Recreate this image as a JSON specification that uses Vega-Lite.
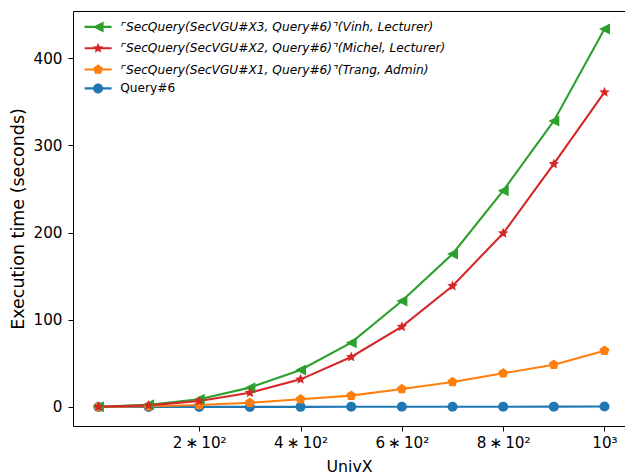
{
  "$schema": "https://vega.github.io/schema/vega-lite/v6.json",
  "width": 552,
  "height": 415,
  "autosize": {"type": "none"},
  "padding": {"left": 73, "top": 11, "right": 0, "bottom": 50},
  "background": "white",
  "config": {
    "view": {"stroke": null},
    "font": "DejaVu Sans",
    "axis": {
      "grid": false,
      "labelFont": "DejaVu Sans",
      "titleFont": "DejaVu Sans",
      "labelFontSize": 15.2,
      "titleFontWeight": "normal",
      "labelColor": "#000",
      "titleColor": "#000",
      "tickColor": "#000",
      "domainColor": "#000",
      "tickSize": 5,
      "tickWidth": 1,
      "domainWidth": 1
    }
  },
  "data": {
    "values": [
      {"x": 1, "y": 0.05, "series": "Query#6"},
      {"x": 100, "y": 0.08, "series": "Query#6"},
      {"x": 200, "y": 0.1, "series": "Query#6"},
      {"x": 300, "y": 0.12, "series": "Query#6"},
      {"x": 400, "y": 0.15, "series": "Query#6"},
      {"x": 500, "y": 0.2, "series": "Query#6"},
      {"x": 600, "y": 0.25, "series": "Query#6"},
      {"x": 700, "y": 0.3, "series": "Query#6"},
      {"x": 800, "y": 0.35, "series": "Query#6"},
      {"x": 900, "y": 0.4, "series": "Query#6"},
      {"x": 1000, "y": 0.5, "series": "Query#6"},
      {"x": 1, "y": 0.1, "series": "⌜SecQuery(SecVGU#X1, Query#6)⌝(Trang, Admin)"},
      {"x": 100, "y": 0.8, "series": "⌜SecQuery(SecVGU#X1, Query#6)⌝(Trang, Admin)"},
      {"x": 200, "y": 2.3, "series": "⌜SecQuery(SecVGU#X1, Query#6)⌝(Trang, Admin)"},
      {"x": 300, "y": 4.9, "series": "⌜SecQuery(SecVGU#X1, Query#6)⌝(Trang, Admin)"},
      {"x": 400, "y": 8.8, "series": "⌜SecQuery(SecVGU#X1, Query#6)⌝(Trang, Admin)"},
      {"x": 500, "y": 13, "series": "⌜SecQuery(SecVGU#X1, Query#6)⌝(Trang, Admin)"},
      {"x": 600, "y": 20.6, "series": "⌜SecQuery(SecVGU#X1, Query#6)⌝(Trang, Admin)"},
      {"x": 700, "y": 28.7, "series": "⌜SecQuery(SecVGU#X1, Query#6)⌝(Trang, Admin)"},
      {"x": 800, "y": 38.6, "series": "⌜SecQuery(SecVGU#X1, Query#6)⌝(Trang, Admin)"},
      {"x": 900, "y": 48.5, "series": "⌜SecQuery(SecVGU#X1, Query#6)⌝(Trang, Admin)"},
      {"x": 1000, "y": 64.6, "series": "⌜SecQuery(SecVGU#X1, Query#6)⌝(Trang, Admin)"},
      {"x": 1, "y": 0.3, "series": "⌜SecQuery(SecVGU#X3, Query#6)⌝(Vinh, Lecturer)"},
      {"x": 100, "y": 2.5, "series": "⌜SecQuery(SecVGU#X3, Query#6)⌝(Vinh, Lecturer)"},
      {"x": 200, "y": 8.8, "series": "⌜SecQuery(SecVGU#X3, Query#6)⌝(Vinh, Lecturer)"},
      {"x": 300, "y": 22.2, "series": "⌜SecQuery(SecVGU#X3, Query#6)⌝(Vinh, Lecturer)"},
      {"x": 400, "y": 42.4, "series": "⌜SecQuery(SecVGU#X3, Query#6)⌝(Vinh, Lecturer)"},
      {"x": 500, "y": 73.8, "series": "⌜SecQuery(SecVGU#X3, Query#6)⌝(Vinh, Lecturer)"},
      {"x": 600, "y": 121.6, "series": "⌜SecQuery(SecVGU#X3, Query#6)⌝(Vinh, Lecturer)"},
      {"x": 700, "y": 175.5, "series": "⌜SecQuery(SecVGU#X3, Query#6)⌝(Vinh, Lecturer)"},
      {"x": 800, "y": 248, "series": "⌜SecQuery(SecVGU#X3, Query#6)⌝(Vinh, Lecturer)"},
      {"x": 900, "y": 328, "series": "⌜SecQuery(SecVGU#X3, Query#6)⌝(Vinh, Lecturer)"},
      {"x": 1000, "y": 433.5, "series": "⌜SecQuery(SecVGU#X3, Query#6)⌝(Vinh, Lecturer)"},
      {"x": 1, "y": 0.2, "series": "⌜SecQuery(SecVGU#X2, Query#6)⌝(Michel, Lecturer)"},
      {"x": 100, "y": 1.8, "series": "⌜SecQuery(SecVGU#X2, Query#6)⌝(Michel, Lecturer)"},
      {"x": 200, "y": 6.9, "series": "⌜SecQuery(SecVGU#X2, Query#6)⌝(Michel, Lecturer)"},
      {"x": 300, "y": 16.4, "series": "⌜SecQuery(SecVGU#X2, Query#6)⌝(Michel, Lecturer)"},
      {"x": 400, "y": 31.7, "series": "⌜SecQuery(SecVGU#X2, Query#6)⌝(Michel, Lecturer)"},
      {"x": 500, "y": 57.3, "series": "⌜SecQuery(SecVGU#X2, Query#6)⌝(Michel, Lecturer)"},
      {"x": 600, "y": 92.1, "series": "⌜SecQuery(SecVGU#X2, Query#6)⌝(Michel, Lecturer)"},
      {"x": 700, "y": 138.8, "series": "⌜SecQuery(SecVGU#X2, Query#6)⌝(Michel, Lecturer)"},
      {"x": 800, "y": 199.2, "series": "⌜SecQuery(SecVGU#X2, Query#6)⌝(Michel, Lecturer)"},
      {"x": 900, "y": 278.7, "series": "⌜SecQuery(SecVGU#X2, Query#6)⌝(Michel, Lecturer)"},
      {"x": 1000, "y": 361, "series": "⌜SecQuery(SecVGU#X2, Query#6)⌝(Michel, Lecturer)"}
    ]
  },
  "layer": [
    {
      "mark": {"type": "line", "strokeWidth": 2.1, "clip": true},
      "encoding": {
        "x": {"field": "x", "type": "quantitative",
              "scale": {"domain": [-49.2, 1040.5], "nice": false, "zero": false},
              "axis": {"values": [200, 400, 600, 800, 1000], "title": "UnivX",
                       "labelExpr": "datum.value == 1000 ? '10³' : (datum.value / 100) + '\u2009∗\u200910²'",
                       "labelPadding": 4, "titlePadding": 9, "titleFontSize": 15.8, "domain": true}},
        "y": {"field": "y", "type": "quantitative",
              "scale": {"domain": [-21.8, 454.1], "nice": false, "zero": false},
              "axis": {"values": [0, 100, 200, 300, 400], "title": "Execution time (seconds)",
                       "labelPadding": 6, "titlePadding": 6, "titleFontSize": 17.5, "domain": true}},
        "color": {"field": "series", "type": "nominal", "legend": null,
                  "scale": {"domain": ["Query#6", "⌜SecQuery(SecVGU#X1, Query#6)⌝(Trang, Admin)", "⌜SecQuery(SecVGU#X3, Query#6)⌝(Vinh, Lecturer)", "⌜SecQuery(SecVGU#X2, Query#6)⌝(Michel, Lecturer)"],
                            "range": ["#1f77b4", "#ff7f0e", "#2ca02c", "#d62728"]}},
        "order": {"field": "x", "type": "quantitative"}
      }
    },
    {
      "mark": {"type": "point", "filled": true, "size": 100, "opacity": 1, "clip": true},
      "encoding": {
        "x": {"field": "x", "type": "quantitative", "axis": null},
        "y": {"field": "y", "type": "quantitative"},
        "color": {"field": "series", "type": "nominal", "legend": null,
                  "scale": {"domain": ["Query#6", "⌜SecQuery(SecVGU#X1, Query#6)⌝(Trang, Admin)", "⌜SecQuery(SecVGU#X3, Query#6)⌝(Vinh, Lecturer)", "⌜SecQuery(SecVGU#X2, Query#6)⌝(Michel, Lecturer)"],
                            "range": ["#1f77b4", "#ff7f0e", "#2ca02c", "#d62728"]}},
        "shape": {"field": "series", "type": "nominal", "legend": null,
                  "scale": {"domain": ["Query#6", "⌜SecQuery(SecVGU#X1, Query#6)⌝(Trang, Admin)", "⌜SecQuery(SecVGU#X3, Query#6)⌝(Vinh, Lecturer)", "⌜SecQuery(SecVGU#X2, Query#6)⌝(Michel, Lecturer)"],
                            "range": ["circle",
                                      "M0,-1.05L-0.999,-0.324L-0.617,0.849L0.617,0.849L0.999,-0.324Z",
                                      "M-1.1,0L1.1,-1.1L1.1,1.1Z",
                                      "M0,-1.1L-0.294,-0.405L-1.046,-0.34L-0.476,0.155L-0.647,0.89L0,0.5L0.647,0.89L0.476,0.155L1.046,-0.34L0.294,-0.405Z"]}}
      }
    },
    {
      "transform": [{"filter": "false"}],
      "mark": {"type": "point", "filled": true, "opacity": 1},
      "encoding": {
        "x": {"field": "x", "type": "quantitative",
              "axis": {"orient": "top", "labels": false, "ticks": false, "domain": true, "title": null}},
        "y": {"field": "y", "type": "quantitative"},
        "color": {"field": "series", "type": "nominal",
                  "scale": {"domain": ["⌜SecQuery(SecVGU#X3, Query#6)⌝(Vinh, Lecturer)", "⌜SecQuery(SecVGU#X2, Query#6)⌝(Michel, Lecturer)", "⌜SecQuery(SecVGU#X1, Query#6)⌝(Trang, Admin)"],
                            "range": ["#2ca02c", "#d62728", "#ff7f0e"]},
                  "legend": {"orient": "none", "legendX": 19, "legendY": 9.8, "title": null,
                             "labelFont": "DejaVu Sans", "labelFontSize": 12.2, "labelFontStyle": "italic", "labelColor": "#000",
                             "symbolSize": 100, "labelOffset": 16, "rowPadding": 8.3, "padding": 0,
                             "symbolStrokeWidth": 0, "symbolOpacity": 1, "labelLimit": 500}},
        "shape": {"field": "series", "type": "nominal",
                  "scale": {"domain": ["⌜SecQuery(SecVGU#X3, Query#6)⌝(Vinh, Lecturer)", "⌜SecQuery(SecVGU#X2, Query#6)⌝(Michel, Lecturer)", "⌜SecQuery(SecVGU#X1, Query#6)⌝(Trang, Admin)"],
                            "range": ["M-1.1,0L1.1,-1.1L1.1,1.1Z M-2.7,-0.21H2.7V0.21H-2.7Z",
                                      "M0,-1.1L-0.294,-0.405L-1.046,-0.34L-0.476,0.155L-0.647,0.89L0,0.5L0.647,0.89L0.476,0.155L1.046,-0.34L0.294,-0.405Z M-2.7,-0.21V0.21H2.7V-0.21Z",
                                      "M0,-1.05L-0.999,-0.324L-0.617,0.849L0.617,0.849L0.999,-0.324Z M-2.7,-0.21V0.21H2.7V-0.21Z"]},
                  "legend": {"orient": "none", "legendX": 19, "legendY": 9.8, "title": null,
                             "labelFont": "DejaVu Sans", "labelFontSize": 12.2, "labelFontStyle": "italic", "labelColor": "#000",
                             "symbolSize": 100, "labelOffset": 16, "rowPadding": 8.3, "padding": 0,
                             "symbolStrokeWidth": 0, "symbolOpacity": 1, "labelLimit": 500}}
      }
    },
    {
      "transform": [{"filter": "false"}],
      "mark": {"type": "point", "filled": true, "opacity": 1},
      "encoding": {
        "x": {"field": "x", "type": "quantitative", "axis": null},
        "y": {"field": "y", "type": "quantitative"},
        "color": {"field": "series", "type": "nominal",
                  "scale": {"domain": ["Query#6"], "range": ["#1f77b4"]},
                  "legend": {"orient": "none", "legendX": 19, "legendY": 71.3, "title": null,
                             "labelFont": "DejaVu Sans", "labelFontSize": 12.2, "labelColor": "#000",
                             "symbolSize": 100, "labelOffset": 16, "rowPadding": 8.3, "padding": 0,
                             "symbolStrokeWidth": 0, "symbolOpacity": 1}},
        "shape": {"field": "series", "type": "nominal",
                  "scale": {"domain": ["Query#6"], "range": ["M1,0A1,1,0,1,1,-1,0A1,1,0,1,1,1,0Z M-2.7,-0.21H2.7V0.21H-2.7Z"]},
                  "legend": {"orient": "none", "legendX": 19, "legendY": 71.3, "title": null,
                             "labelFont": "DejaVu Sans", "labelFontSize": 12.2, "labelColor": "#000",
                             "symbolSize": 100, "labelOffset": 16, "rowPadding": 8.3, "padding": 0,
                             "symbolStrokeWidth": 0, "symbolOpacity": 1}}
      }
    }
  ],
  "resolve": {
    "scale": {"color": "independent", "shape": "independent"},
    "legend": {"color": "independent", "shape": "independent"},
    "axis": {"x": "independent"}
  }
}
